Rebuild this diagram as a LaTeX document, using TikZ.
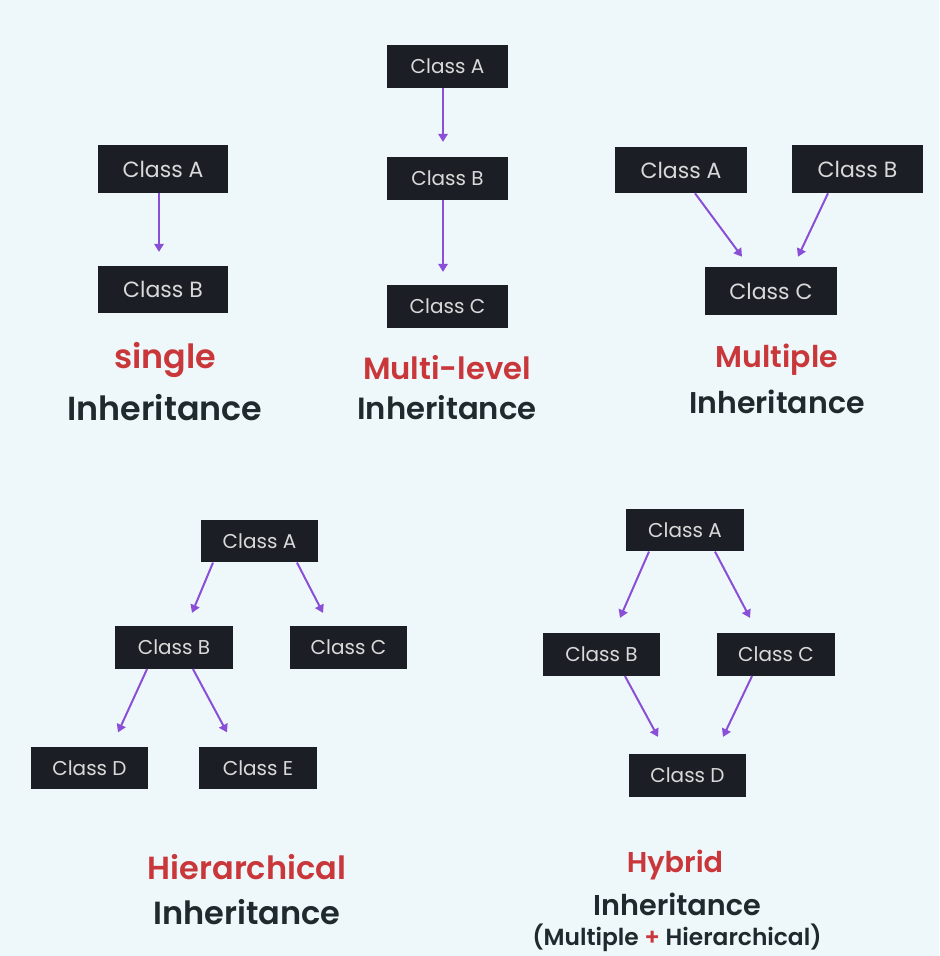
\documentclass[tikz,border=0pt]{standalone}
\usepackage{fontspec}
\setmainfont{Poppins}
\newfontfamily\psemi{Poppins SemiBold}
\usetikzlibrary{arrows.meta,calc}
\definecolor{bgc}{HTML}{EEF8FA}
\definecolor{boxc}{HTML}{1B1F25}
\definecolor{redc}{HTML}{C9373A}
\definecolor{darkc}{HTML}{1F2A2E}
\definecolor{arrc}{HTML}{8A4FD6}
\begin{document}
\begin{tikzpicture}[x=0.75pt,y=-0.75pt,
  cls/.style={fill=boxc,text=white!85!black,minimum width=88pt,minimum height=32pt,inner sep=0pt,font=\fontsize{15}{17}\selectfont},
  big/.style={font=\fontsize{16.5}{18}\selectfont},
  arr/.style={draw=arrc,line width=1.5pt,-{Triangle[width=7pt,length=6pt]}},
  ttl/.style={text=redc,font=\psemi\fontsize{#1}{#1}\selectfont},
  sub/.style={text=darkc,font=\psemi\fontsize{#1}{#1}\selectfont}]
\fill[bgc] (0,0) rectangle (939,956);
\useasboundingbox (0,0) rectangle (939,956);
% single
\node[cls,big,minimum width=97.5pt,minimum height=36pt] (sa) at (163,169) {Class A};
\node[cls,big,minimum width=97.5pt,minimum height=35pt] (sb) at (163,289.5) {Class B};
\draw[arr] ($(sa.south)+(-4,0)$) -- ($(sb.north)+(-4,-14)$);
\node[ttl=25] (st) at (165,360) {single};
\node[sub=25] (ss) at (165,408) {Inheritance};
% multi-level
\node[cls,minimum width=91pt] (la) at (447.5,66.5) {Class A};
\node[cls,minimum width=91pt] (lb) at (447.5,178.5) {Class B};
\node[cls,minimum width=91pt] (lc) at (447.5,306.5) {Class C};
\draw[arr] ($(la.south)+(-4.5,0)$) -- ($(lb.north)+(-4.5,-15)$);
\draw[arr] ($(lb.south)+(-4.5,0)$) -- ($(lc.north)+(-4.5,-13)$);
\node[ttl=23] (lt) at (447,368) {Multi-level};
\node[sub=23] (ls) at (447,408) {Inheritance};
% multiple
\node[cls,big,minimum width=99pt,minimum height=34.5pt] (ma) at (681,170) {Class A};
\node[cls,big,minimum width=98pt,minimum height=36pt] (mb) at (857.5,169) {Class B};
\node[cls,big,minimum width=99pt,minimum height=36pt] (mc) at (771,291) {Class C};
\draw[arr] ($(ma.south)+(14,0)$) -- ($(mc.north)+(-29,-10)$);
\draw[arr] ($(mb.south)+(-29.5,0)$) -- ($(mc.north)+(27,-10)$);
\node[ttl=22.5] (mt) at (777,360) {Multiple};
\node[sub=22.5] (ms) at (777,402) {Inheritance};
% hierarchical
\node[cls] (ha) at (259.5,541) {Class A};
\node[cls] (hb) at (174,647.5) {Class B};
\node[cls] (hc) at (348.5,647.5) {Class C};
\node[cls] (hd) at (89.5,768) {Class D};
\node[cls] (he) at (258,768) {Class E};
\draw[arr] ($(ha.south)+(-46.5,0)$) -- ($(hb.north)+(18,-13)$);
\draw[arr] ($(ha.south)+(37.5,0)$) -- ($(hc.north)+(-25.5,-13)$);
\draw[arr] ($(hb.south)+(-27,0)$) -- ($(hd.north)+(28.5,-14)$);
\draw[arr] ($(hb.south)+(19,0)$) -- ($(he.north)+(-31,-14)$);
\node[ttl=24] (ht) at (247,867) {Hierarchical};
\node[sub=24] (hs) at (247,912) {Inheritance};
% hybrid
\node[cls] (ya) at (685,530) {Class A};
\node[cls] (yb) at (601.5,654.5) {Class B};
\node[cls] (yc) at (776,654.5) {Class C};
\node[cls] (yd) at (687.5,775.5) {Class D};
\draw[arr] ($(ya.south)+(-36,0)$) -- ($(yb.north)+(18.5,-15)$);
\draw[arr] ($(ya.south)+(30,0)$) -- ($(yc.north)+(-26,-15)$);
\draw[arr] ($(yb.south)+(23.5,0)$) -- ($(yd.north)+(-29.5,-17)$);
\draw[arr] ($(yc.south)+(-24,0)$) -- ($(yd.north)+(35.5,-17)$);
\node[ttl=21.5] (yt) at (675,865) {Hybrid};
\node[sub=21.5] (ys) at (677,904) {Inheritance};
\node[sub=17.5] (yn) at (677,938) {(Multiple {\color{redc}+} Hierarchical)};
\end{tikzpicture}
\end{document}
